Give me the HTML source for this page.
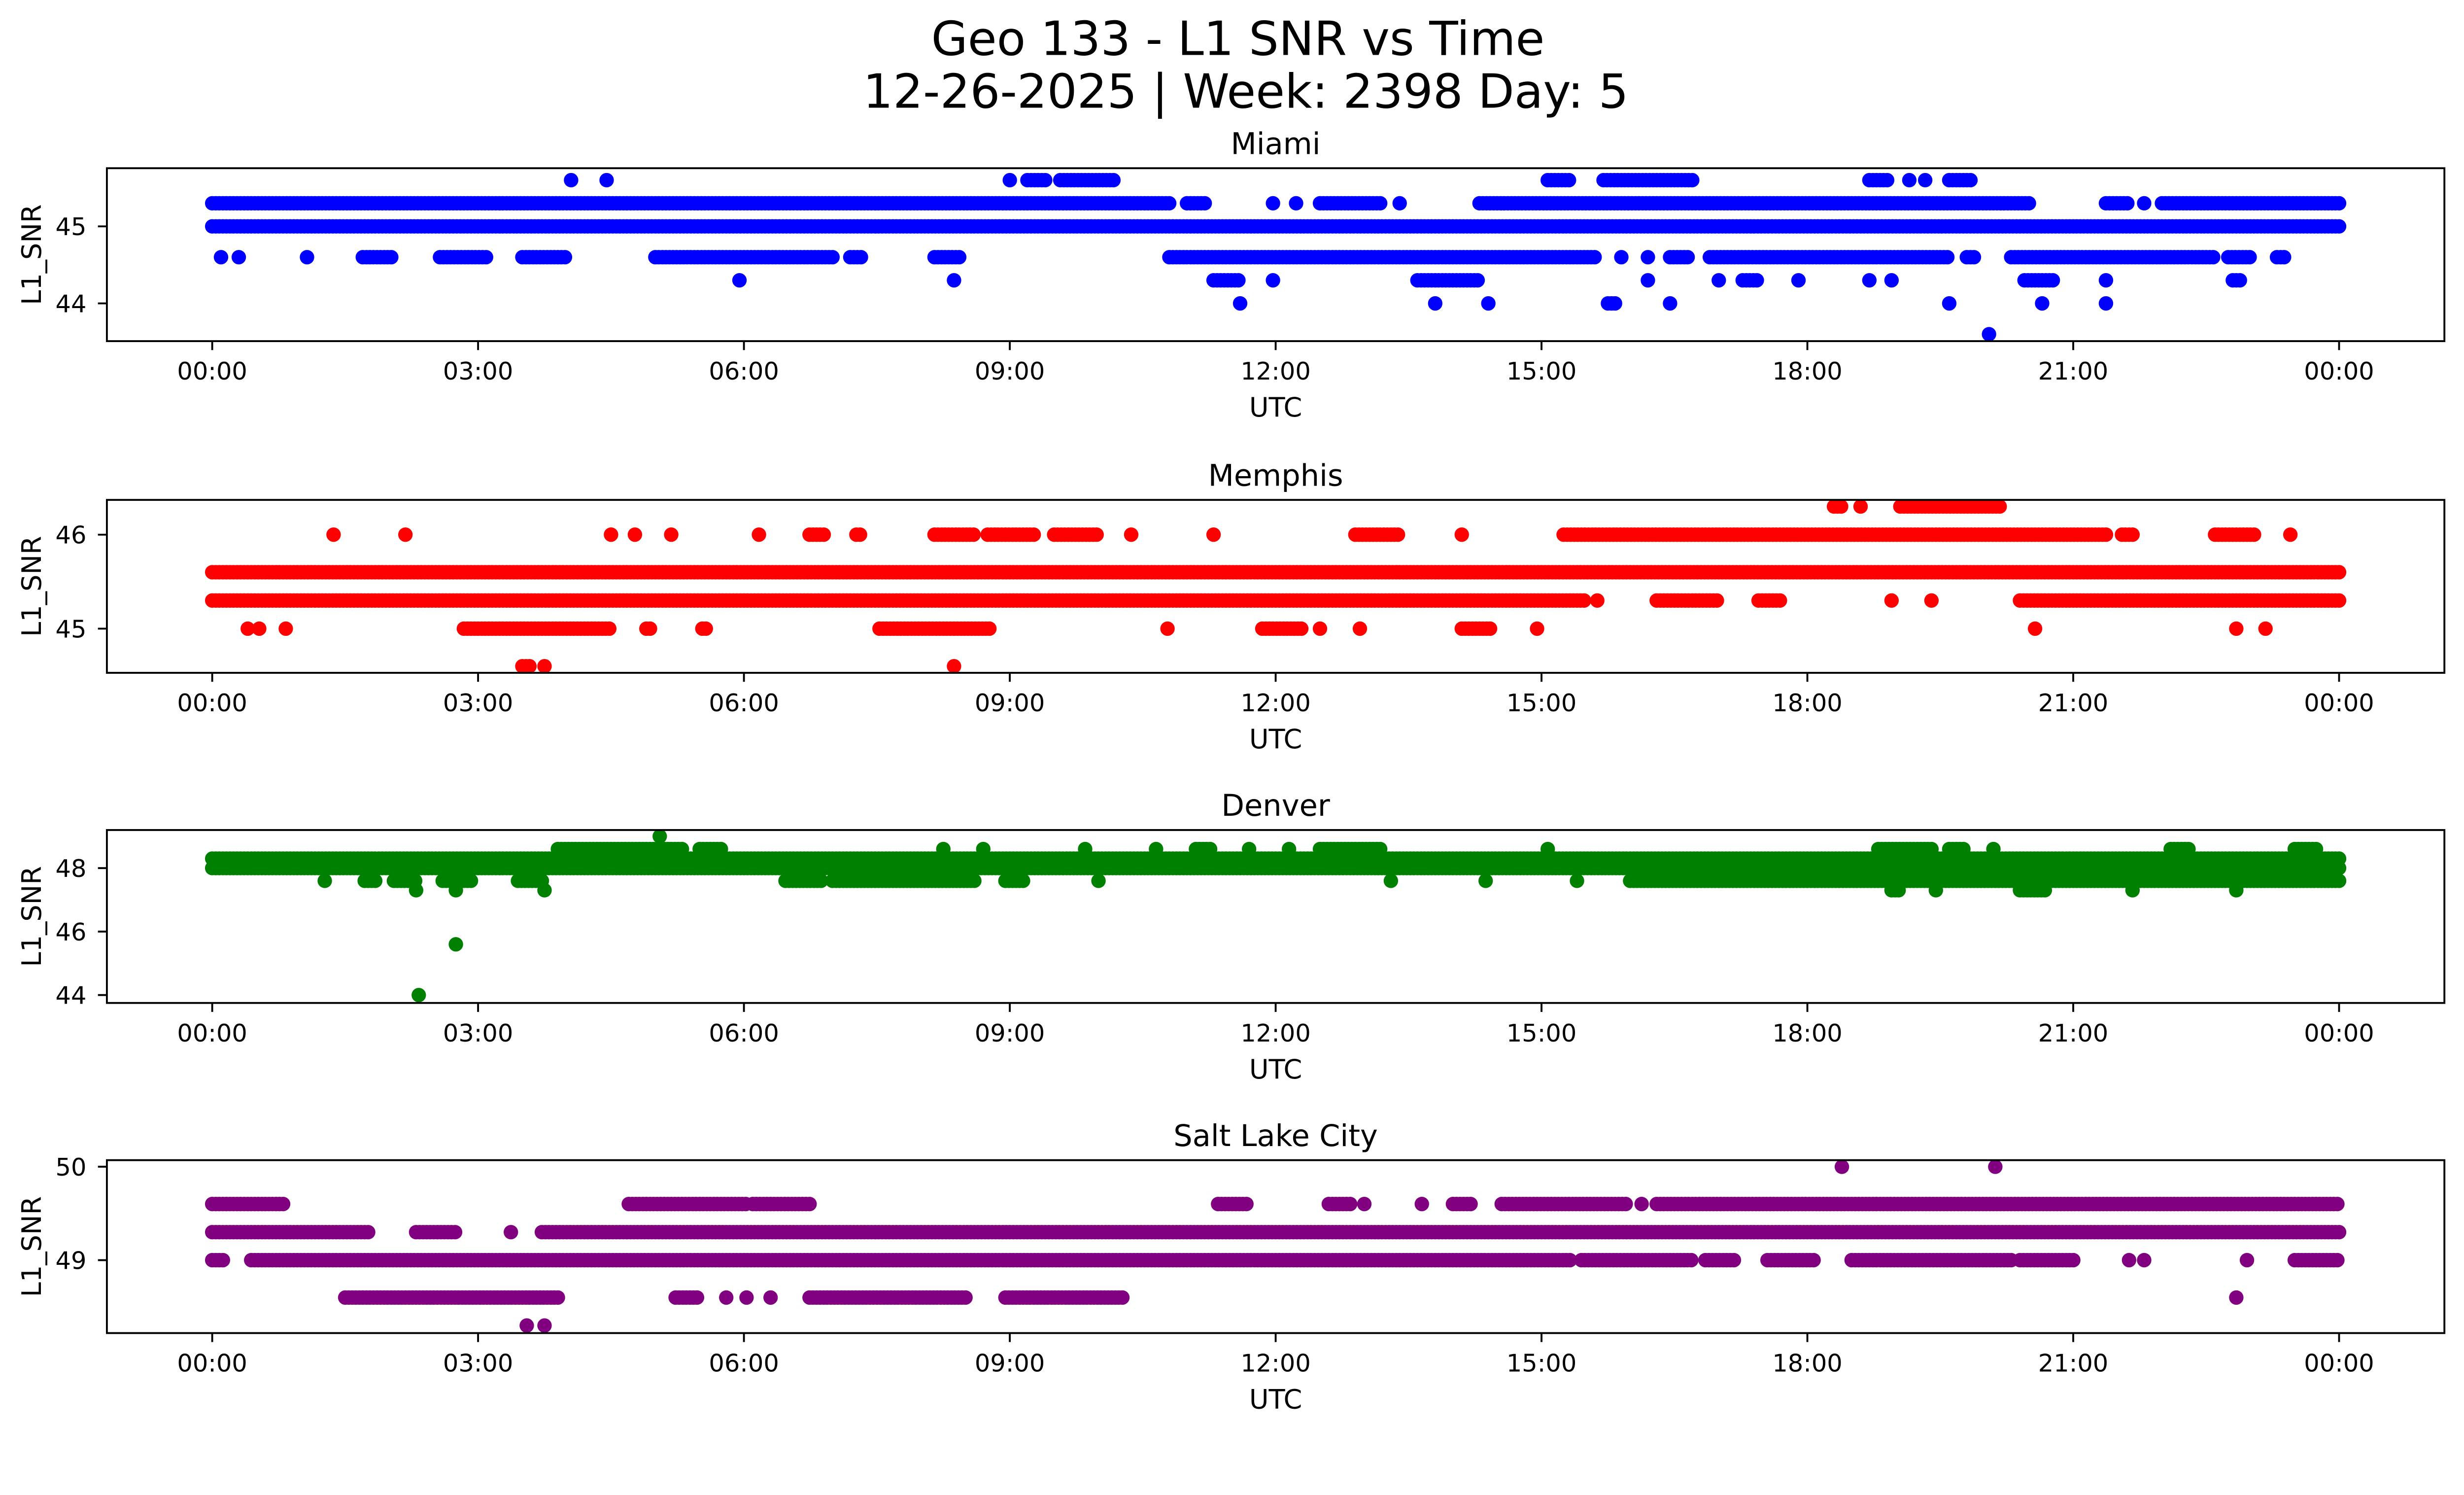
<!DOCTYPE html>
<html><head><meta charset="utf-8"><style>
html,body{margin:0;padding:0;background:#fff}
svg{display:block}
text{font-family:"DejaVu Sans","Liberation Sans",sans-serif;fill:#000}
</style></head><body>
<svg id="chart" width="5225" height="3033" viewBox="0 0 1638 951" preserveAspectRatio="none" xmlns="http://www.w3.org/2000/svg">
<rect width="1638" height="951" fill="#fff"/>
<text x="787.5" y="35" font-size="30" text-anchor="middle">Geo 133 - L1 SNR vs Time</text>
<text x="792.5" y="68.5" font-size="30" text-anchor="middle">12-26-2025 | Week: 2398 Day: 5</text>
<g id="plots"></g>
</svg>
<script>
// ---- data (hours UTC, runs of samples at each SNR level) ----
const xTickHours=[0,3,6,9,12,15,18,21,24];
const xTickLabels=["00:00","03:00","06:00","09:00","12:00","15:00","18:00","21:00","00:00"];
const stations=["Miami","Memphis","Denver","Salt Lake City"];
const miamiLevels=[45.0,45.3,45.6,44.6,44.3,44.0,43.6];
const miamiRuns=[
 [[0,24]],
 [[0,10.8],[11.0,11.2],[11.97,11.97],[12.23,12.23],[12.5,13.2],[13.4,13.4],[14.3,20.5],[21.37,21.63],[21.8,21.8],[22.0,24]],
 [[4.05,4.05],[4.45,4.45],[9.0,9.0],[9.2,9.4],[9.57,10.2],[15.07,15.33],[15.7,16.7],[18.7,18.9],[19.15,19.15],[19.33,19.33],[19.6,19.85]],
 [[0.1,0.1],[0.3,0.3],[1.07,1.07],[1.7,2.05],[2.57,3.1],[3.5,3.99],[5.0,7.0],[7.2,7.35],[8.15,8.45],[10.8,15.6],[15.9,15.9],[16.2,16.2],[16.45,16.65],[16.9,19.6],[19.8,19.9],[20.3,22.6],[22.75,23.0],[23.3,23.4]],
 [[5.95,5.95],[8.37,8.37],[11.3,11.6],[11.97,11.97],[13.6,14.3],[16.2,16.2],[17.0,17.0],[17.27,17.45],[17.9,17.9],[18.7,18.7],[18.95,18.95],[20.45,20.8],[21.37,21.37],[22.8,22.9]],
 [[11.6,11.6],[13.8,13.8],[14.4,14.4],[15.75,15.85],[16.45,16.45],[19.6,19.6],[20.65,20.65],[21.37,21.37]],
 [[20.05,20.05]]
];
const memphisLevels=[45.6,45.3,46.0,46.3,45.0,44.6];
const memphisRuns=[
 [[0,24]],
 [[0,15.5],[15.63,15.63],[16.3,17.0],[17.45,17.7],[18.95,18.95],[19.4,19.4],[20.4,24]],
 [[1.37,1.37],[2.18,2.18],[4.5,4.5],[4.77,4.77],[5.18,5.18],[6.17,6.17],[6.74,6.9],[7.27,7.33],[8.15,8.6],[8.75,9.3],[9.5,10.0],[10.37,10.37],[11.3,11.3],[12.9,13.4],[14.1,14.1],[15.25,21.4],[21.55,21.7],[22.6,23.05],[23.45,23.45]],
 [[18.3,18.4],[18.6,18.6],[19.05,20.2]],
 [[0.4,0.4],[0.53,0.53],[0.83,0.83],[2.84,4.5],[4.9,4.95],[5.53,5.6],[7.53,8.8],[10.78,10.78],[11.85,12.3],[12.5,12.5],[12.95,12.95],[14.1,14.45],[14.95,14.95],[20.57,20.57],[22.84,22.84],[23.17,23.17]],
 [[3.5,3.6],[3.75,3.75],[8.37,8.37]]
];
const denverLevels=[48.3,48.0,47.6,48.6,47.3,49.0,45.6,44.0];
const denverRuns=[
 [[0,24]],
 [[0,24]],
 [[1.27,1.27],[1.72,1.86],[2.05,2.3],[2.6,2.95],[3.45,3.65],[3.72,3.72],[6.47,6.9],[7.0,8.6],[8.95,9.15],[10.0,10.0],[13.3,13.3],[14.37,14.37],[15.4,15.4],[16.0,24]],
 [[3.9,5.3],[5.5,5.75],[8.25,8.25],[8.7,8.7],[9.85,9.85],[10.65,10.65],[11.1,11.27],[11.7,11.7],[12.15,12.15],[12.5,13.2],[15.07,15.07],[18.8,19.4],[19.6,19.78],[20.1,20.1],[22.1,22.3],[23.5,23.75]],
 [[2.3,2.3],[2.75,2.75],[3.75,3.75],[18.95,19.05],[19.45,19.45],[20.4,20.7],[21.67,21.67],[22.84,22.84]],
 [[5.05,5.05]],
 [[2.75,2.75]],
 [[2.33,2.33]]
];
const slcLevels=[49.3,49.0,49.6,48.6,48.3,50.0];
const slcRuns=[
 [[0,1.77],[2.3,2.75],[3.37,3.37],[3.72,24]],
 [[0,0.12],[0.44,15.35],[15.45,16.7],[16.85,17.2],[17.55,18.1],[18.5,20.3],[20.4,21.0],[21.63,21.63],[21.8,21.8],[22.96,22.96],[23.5,24]],
 [[0,0.8],[4.7,6.03],[6.1,6.74],[11.35,11.7],[12.6,12.85],[13.0,13.0],[13.65,13.65],[14.0,14.2],[14.55,15.96],[16.13,16.13],[16.3,24]],
 [[1.5,3.9],[5.23,5.5],[5.8,5.8],[6.03,6.03],[6.3,6.3],[6.74,8.5],[8.95,10.28],[22.84,22.84]],
 [[3.55,3.55],[3.75,3.75]],
 [[18.39,18.39],[20.12,20.12]]
];
const yTicks=[[44,45],[45,46],[44,46,48],[49,50]];
const yRanges=[[43.51,45.755],[44.53,46.37],[43.75,49.2],[48.22,50.07]];
const colors=["#0000ff","#ff0000","#008000","#800080"];
const allLevels=[miamiLevels,memphisLevels,denverLevels,slcLevels];
const allRuns=[miamiRuns,memphisRuns,denverRuns,slcRuns];

// ---- layout ----
const NS="http://www.w3.org/2000/svg";
const L=68,R=1555,X0=135,X24=1488;
const tops=[107,318,528,738],H=110;
const g=document.getElementById('plots');
function mk(tag,attrs,parent){const e=document.createElementNS(NS,tag);for(const k in attrs)e.setAttribute(k,attrs[k]);(parent||g).appendChild(e);return e;}
const xS=h=>X0+(X24-X0)*h/24;
stations.forEach((name,i)=>{
  const top=tops[i],bot=top+H;
  const [ymin,ymax]=yRanges[i];
  const yS=v=>bot-(v-ymin)/(ymax-ymin)*H;
  const panel=mk('g',{});
  
  
  const title=mk('text',{x:(L+R)/2,y:top-9,'font-size':19,'text-anchor':'middle'},panel);
  title.textContent=name;
  
  
  const dots=mk('g',{fill:colors[i]},panel);
  
  
  allLevels[i].forEach((lv,j)=>{
    allRuns[i][j].forEach(([a,b])=>{
      for(let t=a;t<=b+1e-9;t+=0.04){
        mk('circle',{cx:xS(t).toFixed(1),cy:yS(lv).toFixed(1),r:4.6},dots);
      }
    });
  });
  const frame=mk('rect',{x:L,y:top,width:R-L,height:H,fill:'none',stroke:'#000','stroke-width':1.2},panel);
  
  
  xTickHours.forEach((h,k)=>{
    const x=xS(h);
    mk('line',{x1:x,x2:x,y1:bot,y2:bot+5.7,stroke:'#000','stroke-width':1.2},panel);
    const t=mk('text',{x:x,y:bot+24.5,'font-size':15.5,'text-anchor':'middle'},panel);
    t.textContent=xTickLabels[k];
    
    
  });
  yTicks[i].forEach(v=>{
    const y=yS(v);
    mk('line',{x1:L-5.7,x2:L,y1:y,y2:y,stroke:'#000','stroke-width':1.2},panel);
    const t=mk('text',{x:55,y:y+5.6,'font-size':15.5,'text-anchor':'end'},panel);
    t.textContent=String(v);
    
    
  });
  const xl=mk('text',{x:(L+R)/2,y:bot+48,'font-size':17,'text-anchor':'middle'},panel);
  xl.textContent='UTC';
  
  
  const cy=top+H/2;
  const yl=mk('text',{x:0,y:0,'font-size':17,'text-anchor':'middle',transform:`translate(26,${cy}) rotate(-90)`},panel);
  yl.textContent='L1_SNR';
  
  
});
</script>
</body></html>
